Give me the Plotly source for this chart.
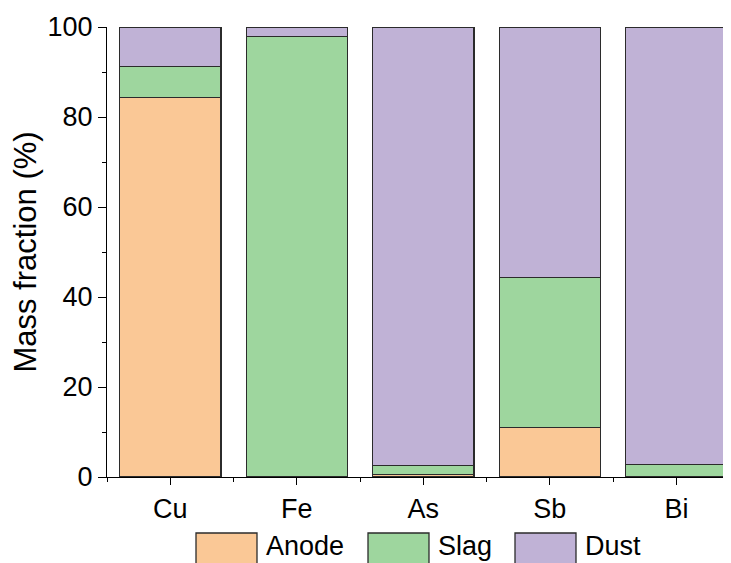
import plotly.graph_objects as go

categories = ["Cu", "Fe", "As", "Sb", "Bi"]
series_names = ["Anode", "Slag", "Dust"]
anode = [84.3, 0.0, 0.6, 11.0, 0.0]
slag = [6.9, 97.9, 2.0, 33.4, 2.8]
dust = [8.8, 2.1, 97.4, 55.6, 97.2]
colors = ["#FAC896", "#9ED69E", "#C0B2D6"]
y_ticks = [0, 20, 40, 60, 80, 100]

FONT = "Liberation Sans, Arial, sans-serif"
OFF = 8  # page body margin
W, H = 723, 555
L, R, T, B = 99, 4, 19, 86
pw, ph = W - L - R, H - T - B

xpos = list(range(len(categories)))
fig = go.Figure()
for name, vals, col in zip(series_names, [anode, slag, dust], colors):
    fig.add_trace(go.Bar(
        x=xpos, y=vals, name=name, width=0.8,
        marker=dict(color=col, line=dict(color="#2b2b2b", width=1.3)),
        showlegend=False,
    ))

# custom legend (large boxes) in paper coordinates; inputs are page pixels
def px_to_paper_x(px):
    return (px - OFF - L) / pw

def px_to_paper_y(py):
    return (H - B - (py - OFF)) / ph

box_lefts = [196, 368, 515]
box_w = 61
for name, col, bx in zip(series_names, colors, box_lefts):
    fig.add_shape(type="rect", xref="paper", yref="paper",
                  x0=px_to_paper_x(bx), x1=px_to_paper_x(bx + box_w),
                  y0=px_to_paper_y(533), y1=px_to_paper_y(568),
                  fillcolor=col, line=dict(color="#2b2b2b", width=1.3))
    fig.add_annotation(xref="paper", yref="paper",
                       x=px_to_paper_x(bx + box_w + 7), y=px_to_paper_y(546),
                       text=name, showarrow=False, xanchor="left", yanchor="middle",
                       font=dict(family=FONT, size=27, color="black"))

fig.update_layout(
    barmode="stack",
    width=W, height=H,
    margin=dict(l=L, r=R, t=T, b=B, pad=0),
    plot_bgcolor="white", paper_bgcolor="white",
    font=dict(family=FONT, size=27, color="black"),
    bargap=0.2,
)
fig.update_xaxes(
    range=[-0.5, 4.4], tickvals=xpos, ticktext=categories,
    showline=True, linecolor="black", linewidth=1.2, mirror=False,
    ticks="outside", ticklen=7, tickwidth=1.2, tickcolor="black",
    minor=dict(tick0=0.5, dtick=1, ticks="outside", ticklen=4, tickwidth=1.2, tickcolor="black"),
    showgrid=False, zeroline=False, tickfont=dict(size=27),
)
fig.update_yaxes(
    range=[0, 100], tickvals=y_ticks,
    showline=True, linecolor="black", linewidth=1.2,
    ticks="outside", ticklen=8, tickwidth=1.2, tickcolor="black",
    minor=dict(dtick=10, ticks="outside", ticklen=4, tickwidth=1.2, tickcolor="black"),
    showgrid=False, zeroline=False, tickfont=dict(size=27),
    title=dict(text="Mass fraction (%)", font=dict(size=31), standoff=14),
)

fig.write_html("out.html")
